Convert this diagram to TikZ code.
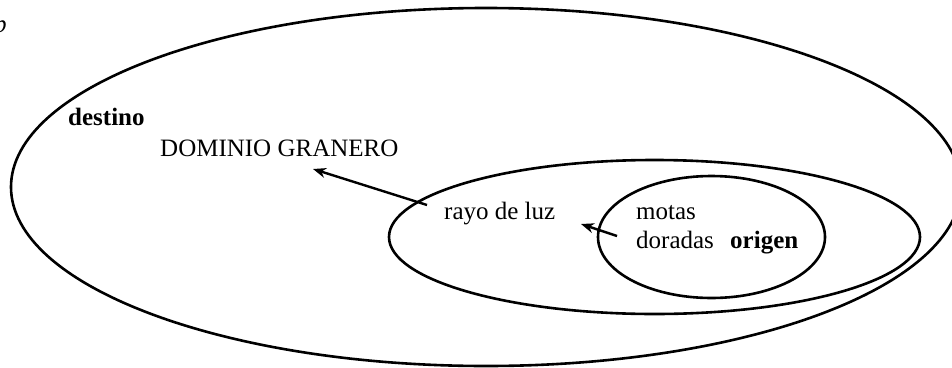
\documentclass[tikz,border=0pt]{standalone}
\usepackage{fontspec}
\setmainfont{Liberation Serif}
\usetikzlibrary{arrows.meta}
\begin{document}
\begin{tikzpicture}[x=1pt,y=-1pt,
  ell/.style={draw=black,line width=2.6pt},
  lbl/.style={anchor=base west,inner sep=0pt,font=\fontsize{25}{29}\selectfont},
  conn/.style={line width=2.4pt,-{Stealth[length=13pt,width=10pt]}}]
\useasboundingbox (0,0) rectangle (952,367);
\draw[ell] (486,187) ellipse [x radius=475, y radius=179];
\draw[ell] (654.5,237) ellipse [x radius=265.5, y radius=77];
\draw[ell] (711.5,237) ellipse [x radius=113.5, y radius=61];
\node[lbl,font=\fontsize{25}{29}\selectfont\itshape] (p) at (-6,32) {p};
\node[lbl,font=\fontsize{25}{29}\selectfont\bfseries] (destino) at (68,125) {destino};
\node[lbl] (dominio) at (160,156) {DOMINIO GRANERO};
\node[lbl] (rayo) at (444,219) {rayo de luz};
\node[lbl] (motas) at (636,219) {motas};
\node[lbl] (doradas) at (636,248) {doradas};
\node[lbl,font=\fontsize{25}{29}\selectfont\bfseries] (origen) at (730,248) {origen};
\coordinate (a1s) at (427,205);
\coordinate (a1e) at (313,169);
\coordinate (a2s) at (617,236);
\coordinate (a2e) at (581,224);
\draw[conn] (a1s) -- (a1e);
\draw[conn] (a2s) -- (a2e);
\end{tikzpicture}
\end{document}
